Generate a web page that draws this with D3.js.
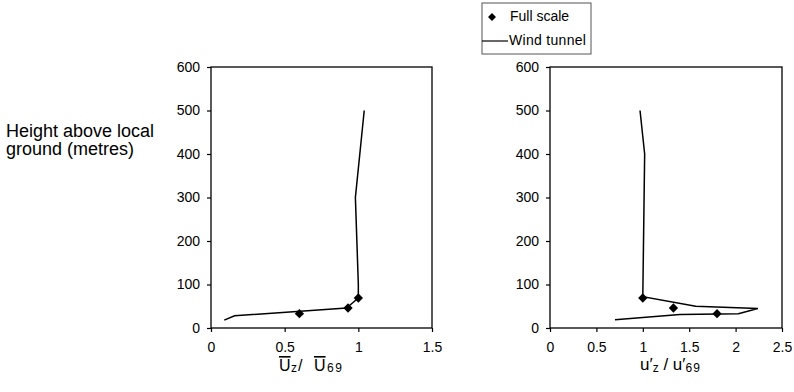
<!DOCTYPE html>
<html>
<head>
<meta charset="utf-8">
<script src="https://cdn.jsdelivr.net/npm/d3@7"></script>
<style>
  body { margin: 0; background: #fff; }
  text { font-family: "Liberation Sans", Arial, sans-serif; fill: #000; }
</style>
</head>
<body>
<script>
// full scale measurements
const fullHeights = [33, 46, 69];
const fullMean = [0.6, 0.93, 1.0];
const fullTurb = [1.8, 1.33, 1.0];

// wind tunnel profiles
const tunnelMeanX = [0.09, 0.16, 0.92, 1.0, 1.0, 0.98, 1.01, 1.04];
const tunnelMeanH = [18, 28, 46, 69, 100, 300, 400, 500];
const tunnelTurbX = [0.7, 1.4, 2.03, 2.24, 1.57, 1.0, 1.02, 0.97];
const tunnelTurbH = [19, 31, 33, 45, 50, 72, 400, 500];

const yTicks = [0, 100, 200, 300, 400, 500, 600];
const meanTicks = [0, 0.5, 1, 1.5];
const turbTicks = [0, 0.5, 1, 1.5, 2, 2.5];

const width = 794, height = 392;
const svg = d3.select("body").append("svg")
    .attr("width", width)
    .attr("height", height);

const plotTop = 67, plotBottom = 328;

function panel(x0, x1, xMax, xTicks, lineX, lineH, ptsX) {
    const x = d3.scaleLinear().domain([0, xMax]).range([x0, x1]);
    const y = d3.scaleLinear().domain([0, 600]).range([plotBottom, plotTop]);
    const g = svg.append("g");

    // frame
    g.append("rect")
        .attr("x", x0).attr("y", plotTop)
        .attr("width", x1 - x0).attr("height", plotBottom - plotTop)
        .style("fill", "none").style("stroke", "#000").style("stroke-width", 1.3);

    const ya = g.append("g")
        .attr("transform", `translate(${x0},0)`)
        .call(d3.axisLeft(y).tickValues(yTicks).tickSize(4).tickPadding(7).tickFormat(d3.format("d")));
    const xa = g.append("g")
        .attr("transform", `translate(0,${plotBottom})`)
        .call(d3.axisBottom(x).tickValues(xTicks).tickSize(4).tickPadding(10).tickFormat(d => String(d)));
    [ya, xa].forEach(a => {
        a.select(".domain").remove();
        a.selectAll("line").style("stroke", "#000").style("stroke-width", 1.2);
        a.selectAll("text").style("font-size", "14px").style("font-family", "Liberation Sans, Arial, sans-serif");
    });

    const pts = lineX.map((v, i) => [v, lineH[i]]);
    g.append("path")
        .datum(pts)
        .attr("d", d3.line().x(d => x(d[0])).y(d => y(d[1])))
        .style("fill", "none").style("stroke", "#000").style("stroke-width", 1.5);

    g.selectAll(".pt")
        .data(ptsX.map((v, i) => [v, fullHeights[i]]))
        .enter().append("path")
        .attr("class", "pt")
        .attr("transform", d => `translate(${x(d[0])},${y(d[1])})`)
        .attr("d", d3.symbol().type(d3.symbolDiamond2).size(55))
        .style("fill", "#000");
}

panel(211, 432, 1.5, meanTicks, tunnelMeanX, tunnelMeanH, fullMean);
panel(550, 782, 2.5, turbTicks, tunnelTurbX, tunnelTurbH, fullTurb);

// y label
const yl = svg.append("text").attr("x", 6).attr("y", 137).style("font-size", "18px");
yl.append("tspan").attr("x", 6).text("Height above local");
yl.append("tspan").attr("x", 6).attr("dy", 18).text("ground (metres)");

// x titles
const t1 = svg.append("text").attr("y", 371).style("font-size", "16px");
t1.append("tspan").attr("x", 279).style("text-decoration", "overline").text("U");
t1.append("tspan").attr("x", 291).attr("dy", 1).style("font-size", "12px").text("z");
t1.append("tspan").attr("x", 298).attr("dy", -1).text("/");
t1.append("tspan").attr("x", 314).style("text-decoration", "overline").text("U");
t1.append("tspan").attr("x", 327).attr("dy", 1).style("font-size", "12px").style("letter-spacing", "1.5px").text("69");

const t2 = svg.append("text").attr("x", 640).attr("y", 370).style("font-size", "17px");
t2.append("tspan").text("u\u2032");
t2.append("tspan").attr("dy", 2).style("font-size", "12px").text("z");
t2.append("tspan").attr("dy", -2).text(" / u\u2032");
t2.append("tspan").attr("dy", 2).style("font-size", "12px").style("letter-spacing", "1px").text("69");

// legend
const lg = svg.append("g");
lg.append("rect")
    .attr("x", 482).attr("y", 3).attr("width", 109).attr("height", 51)
    .style("fill", "none").style("stroke", "#555").style("stroke-width", 1);
lg.append("path")
    .attr("transform", "translate(492,17)")
    .attr("d", d3.symbol().type(d3.symbolDiamond2).size(40))
    .style("fill", "#000");
lg.append("text").attr("x", 510).attr("y", 21).style("font-size", "14px").text("Full scale");
lg.append("line")
    .attr("x1", 482).attr("x2", 508).attr("y1", 41).attr("y2", 41)
    .style("stroke", "#000").style("stroke-width", 1.2);
lg.append("text").attr("x", 509).attr("y", 45).style("font-size", "14px").style("letter-spacing", "0.3px").text("Wind tunnel");
</script>
</body>
</html>
